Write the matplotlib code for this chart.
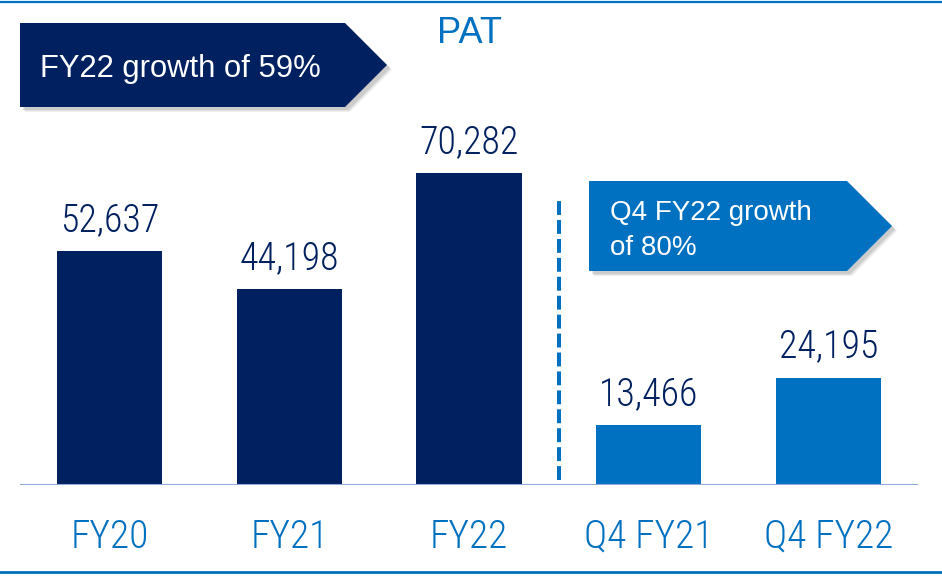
import matplotlib
matplotlib.use("Agg")
import matplotlib.pyplot as plt
from matplotlib.patches import Polygon
from matplotlib.lines import Line2D

categories = ["FY20", "FY21", "FY22", "Q4 FY21", "Q4 FY22"]
values = [52637, 44198, 70282, 13466, 24195]
value_labels = ["52,637", "44,198", "70,282", "13,466", "24,195"]
title = "PAT"
box1_text = "FY22 growth of 59%"
box2_lines = ["Q4 FY22 growth", "of 80%"]

NAVY = "#002060"
BLUE = "#0070C0"
bar_colors = [NAVY, NAVY, NAVY, BLUE, BLUE]

NARROW = ["Roboto Condensed", "DejaVu Sans"]
REG = ["Liberation Sans", "DejaVu Sans"]

W, H = 942, 577
fig = plt.figure(figsize=(W / 100, H / 100), dpi=100)
fig.patch.set_facecolor("white")

# main bar axes
ax = fig.add_axes([20 / W, (H - 485) / H, 898 / W, 400 / H])
ax.set_xlim(-0.5, 4.5)
ax.set_ylim(0, 90100)
ax.axis("off")
x = list(range(len(categories)))
ax.bar(x, values, width=0.585, color=bar_colors, zorder=2)
ax.axhline(0, color="#8FAADC", lw=1.5, zorder=3)

for xi, v, lab in zip(x, values, value_labels):
    ax.annotate(lab, xy=(xi, v), xytext=(0, 20), textcoords="offset pixels",
                ha="center", va="baseline", fontsize=27.3, color=NAVY,
                family=NARROW, weight="light")
for xi, cat in zip(x, categories):
    ax.annotate(cat, xy=(xi, 0), xytext=(0, -63), textcoords="offset pixels",
                ha="center", va="baseline", fontsize=28.4, color=BLUE,
                family=NARROW, weight="light")

# dashed divider
ax.plot([2.5, 2.5], [1100, 64900], color=BLUE, lw=2.9, dashes=(3.45, 1.25),
        solid_capstyle="butt", dash_capstyle="butt", zorder=2)

# overlay in pixel coordinates for decorations
ov = fig.add_axes([0, 0, 1, 1], facecolor="none")
ov.set_xlim(0, W)
ov.set_ylim(H, 0)
ov.axis("off")

def arrow_box(x0, y0, x1, xt, y1, color):
    ym = (y0 + y1) / 2
    pts = [(x0, y0), (x1, y0), (xt, ym), (x1, y1), (x0, y1)]
    for d, a in [(5, 0.12), (4, 0.15), (3, 0.2)]:
        sh = [(px + d, py + d) for px, py in pts]
        ov.add_patch(Polygon(sh, closed=True, facecolor="#808080", edgecolor="none", alpha=a))
    ov.add_patch(Polygon(pts, closed=True, facecolor=color, edgecolor="none"))

arrow_box(20, 23, 345, 387, 107, NAVY)
arrow_box(589, 181, 847, 892, 271, BLUE)

ov.text(40, 77, box1_text, ha="left", va="baseline", fontsize=22.3, color="white", family=REG)
ov.text(610, 220, box2_lines[0], ha="left", va="baseline", fontsize=20, color="white", family=REG)
ov.text(610, 255, box2_lines[1], ha="left", va="baseline", fontsize=20, color="white", family=REG)

ov.text(469, 43, title, ha="center", va="baseline", fontsize=26, color=BLUE, family=REG)

# frame lines
ov.add_line(Line2D([0, W], [1.5, 1.5], color=BLUE, lw=1.6))
ov.add_line(Line2D([0, W], [572, 572], color=BLUE, lw=2.0))

fig.savefig("out.png", dpi=100)
